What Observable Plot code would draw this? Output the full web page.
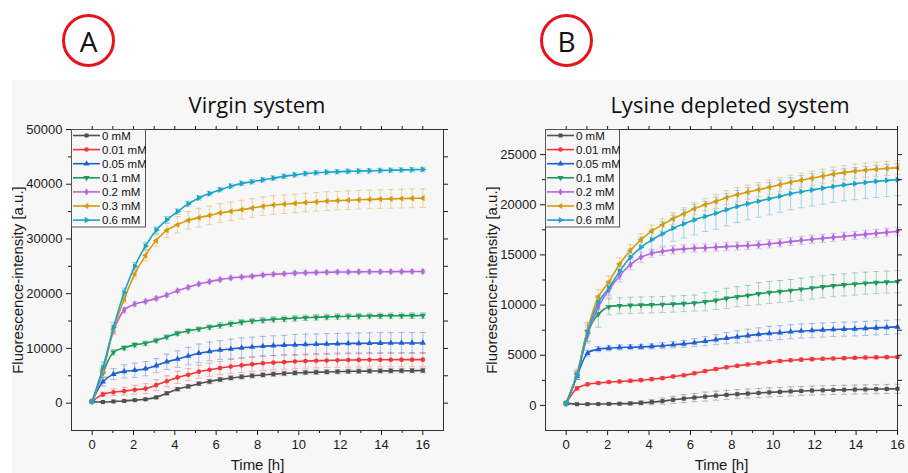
<!DOCTYPE html>
<html><head><meta charset="utf-8">
<script src="https://cdn.jsdelivr.net/npm/d3@7"></script>
<script src="https://cdn.jsdelivr.net/npm/@observablehq/plot@0.6"></script>
<style>
body{margin:0;width:908px;height:473px;position:relative;background:#fff;overflow:hidden;font-family:"Liberation Sans",Arial,sans-serif;}
.abs{position:absolute;}
.bg{left:12px;top:80px;width:896px;height:393px;background:#f7f7f7;}
.badge{width:53px;height:53px;box-sizing:border-box;border:3px solid #e8141c;border-radius:50%;display:flex;align-items:center;justify-content:center;font-family:"Open Sans",sans-serif;font-size:28px;color:#111;line-height:1;}
.title{font-family:"Open Sans",sans-serif;font-size:22px;color:#111;transform:translateX(-50%);white-space:nowrap;line-height:24px;}
</style></head><body>
<div class="abs bg"></div>
<div class="abs badge" style="left:62px;top:14px;">A</div>
<div class="abs badge" style="left:540px;top:14px;">B</div>
<div class="abs title" style="left:257px;top:92px;">Virgin system</div>
<div class="abs title" style="left:730px;top:92px;">Lysine depleted system</div>
<script>
// ---- data ----
const times = [0,0.52,1.03,1.55,2.06,2.58,3.1,3.61,4.13,4.65,5.16,5.68,6.19,6.71,7.23,7.74,8.26,8.77,9.29,9.81,10.32,10.84,11.35,11.87,12.39,12.9,13.42,13.94,14.45,14.97,15.48,16.0];
const concentrations = ["0 mM","0.01 mM","0.05 mM","0.1 mM","0.2 mM","0.3 mM","0.6 mM"];
const xLabel = "Time [h]";
const yLabel = "Fluorescence-intensity [a.u.]";

// Virgin system (A)
const virgin_0   = [300,200,300,400,550,700,1050,1800,2550,3050,3550,3950,4300,4600,4800,5000,5150,5300,5420,5520,5600,5650,5700,5750,5800,5830,5860,5880,5900,5920,5930,5950];
const virgin_001 = [300,1600,2000,2200,2450,2650,3300,4000,4700,5200,5750,6100,6400,6700,6900,7100,7300,7400,7500,7600,7680,7750,7800,7850,7880,7900,7920,7930,7940,7950,7950,7950];
const virgin_005 = [300,3900,5300,5800,6000,6300,6850,7550,8050,8600,9100,9450,9700,9900,10100,10250,10400,10500,10600,10650,10700,10750,10800,10850,10900,10920,10950,10970,10980,10990,11000,11000];
const virgin_01  = [300,5500,9300,10100,10650,10950,11450,12100,12750,13200,13550,13900,14200,14500,14800,15000,15150,15300,15400,15500,15600,15680,15750,15820,15870,15900,15930,15950,15970,15980,15990,16000];
const virgin_02  = [300,5800,13200,17000,18100,18590,19140,19760,20550,21160,21780,22200,22570,22880,23050,23200,23400,23550,23650,23750,23820,23880,23920,23950,23970,23990,24000,24010,24020,24030,24040,24040];
const virgin_03  = [300,6000,13500,19000,23600,27000,29700,31560,32600,33400,33890,34300,34740,35050,35360,35650,35970,36200,36350,36500,36650,36780,36900,37000,37080,37150,37220,37280,37330,37380,37420,37450];
const virgin_06  = [300,6500,13820,20200,25000,28700,31600,33500,35000,36400,37500,38300,39000,39650,40150,40450,40800,41100,41450,41700,41950,42100,42200,42280,42350,42400,42450,42500,42550,42600,42650,42700];

const virgin_0_err   = [100,100,100,150,150,200,250,300,300,350,350,400,400,400,400,400,400,400,400,400,400,400,400,400,400,400,400,400,400,400,400,400];
const virgin_001_err = [100,400,600,700,800,900,1000,1000,1100,1100,1200,1200,1200,1300,1300,1300,1300,1300,1300,1300,1300,1300,1300,1300,1300,1300,1300,1300,1300,1300,1300,1300];
const virgin_005_err = [100,800,1000,1200,1300,1300,1300,1400,1500,1600,1700,1700,1700,1800,1800,1800,1800,1800,1800,1900,1900,1900,1900,1900,1900,1900,1900,1900,1900,1900,1900,1900];
const virgin_01_err  = [100,700,500,400,400,400,400,400,400,400,400,400,500,500,500,500,500,500,500,500,500,500,500,500,500,500,500,500,500,500,500,500];
const virgin_02_err  = [100,500,700,500,400,300,300,300,300,300,300,300,300,300,300,300,300,300,300,300,300,300,300,300,300,300,300,300,300,300,300,300];
const virgin_03_err  = [100,500,800,700,900,1000,1100,1300,1500,1600,1700,1700,1700,1700,1700,1700,1700,1700,1700,1700,1700,1700,1700,1700,1700,1700,1700,1700,1700,1700,1700,1700];
const virgin_06_err  = [100,1000,900,800,700,700,600,600,500,500,400,400,400,400,400,400,400,400,400,400,400,400,400,400,400,400,400,400,400,400,400,400];

// Lysine depleted system (B)
const lysine_0   = [200,120,130,140,150,170,200,250,330,430,560,680,780,880,970,1050,1120,1180,1240,1300,1350,1400,1440,1480,1510,1540,1560,1580,1600,1620,1640,1660];
const lysine_001 = [200,1700,2100,2230,2330,2380,2450,2520,2620,2720,2880,3000,3200,3420,3620,3800,3950,4080,4200,4320,4420,4500,4560,4610,4650,4680,4710,4740,4770,4790,4810,4830];
const lysine_005 = [200,2900,5200,5600,5700,5770,5800,5830,5880,5950,6050,6130,6250,6400,6550,6700,6830,6950,7080,7180,7250,7340,7410,7460,7510,7560,7600,7630,7680,7730,7780,7830];
const lysine_01  = [200,3000,7300,9100,9830,9930,9970,10000,10030,10060,10100,10150,10200,10330,10470,10670,10830,10960,11130,11250,11350,11450,11580,11700,11820,11930,12020,12100,12180,12240,12290,12330];
const lysine_02  = [200,3000,7000,9800,11500,12930,14030,14760,15160,15360,15500,15600,15670,15700,15770,15830,15870,15930,16000,16100,16200,16330,16450,16550,16650,16750,16850,16950,17050,17150,17250,17350];
const lysine_03  = [200,3200,7500,10830,12300,14100,15430,16500,17370,18000,18600,19100,19600,20000,20330,20700,21000,21260,21500,21750,22000,22250,22450,22650,22850,23050,23200,23350,23450,23550,23620,23700];
const lysine_06  = [200,3000,7200,10260,11700,13360,14760,15760,16500,17100,17660,18100,18500,18830,19160,19500,19830,20100,20350,20600,20850,21100,21300,21480,21650,21820,21980,22100,22220,22330,22420,22500];

const lysine_0_err   = [50,50,50,50,100,100,150,200,250,300,350,400,400,450,450,450,450,450,450,450,450,450,450,450,450,450,450,450,450,450,450,450];
const lysine_001_err = [50,200,150,150,150,150,150,150,150,150,150,150,150,150,150,150,150,150,150,150,150,150,150,150,150,150,150,150,150,150,150,150];
const lysine_005_err = [50,300,300,250,250,250,250,250,250,300,300,350,400,450,500,550,600,650,650,700,700,700,700,700,700,700,700,700,700,700,700,700];
const lysine_01_err  = [50,400,900,1300,800,800,800,800,800,800,800,800,800,900,900,1000,1000,1000,1100,1100,1100,1100,1100,1100,1100,1100,1100,1100,1100,1100,1100,1100];
const lysine_02_err  = [50,400,800,900,700,600,500,500,400,400,400,400,400,400,400,400,400,400,400,400,400,400,400,400,400,400,400,400,400,400,400,400];
const lysine_03_err  = [50,400,800,700,600,600,600,600,600,600,600,600,600,600,700,700,700,700,700,700,700,700,700,700,700,700,700,700,700,700,700,700];
const lysine_06_err  = [50,400,800,700,700,800,900,1000,1100,1200,1300,1400,1500,1500,1600,1600,1600,1600,1600,1600,1600,1600,1600,1600,1600,1600,1600,1600,1600,1600,1600,1600];

// tick values
const xMajorTicks = [0,2,4,6,8,10,12,14,16];
const xMinorTicks = [1,3,5,7,9,11,13,15];
const xAllTicks = [0,1,2,3,4,5,6,7,8,9,10,11,12,13,14,15,16];
const yMajorA = [0,10000,20000,30000,40000,50000];
const yMinorA = [5000,15000,25000,35000,45000];
const yMajorB = [0,5000,10000,15000,20000,25000];
const yMinorB = [2500,7500,12500,17500,22500];

// ---- styles ----
const colors = ["#505050","#f3363a","#1e5fd6","#1d9a5e","#b466dc","#d49b0c","#19a4c9"];
const plotSymbols = ["square","circle","triangle","triangle","diamond","triangle","triangle"];
const d3Symbols = [d3.symbolSquare,d3.symbolCircle,d3.symbolTriangle,d3.symbolTriangle,d3.symbolDiamond,d3.symbolTriangle,d3.symbolTriangle];
const rotations = [0,0,0,180,0,-90,90];

const capSymbol = {draw(ctx, size){ const w = Math.sqrt(size); ctx.moveTo(-w,0); ctx.lineTo(w,0); }};

function panel(values, errs, o) {
  const marks = [];
  const per = values.map((arr, i) => arr.map((v, j) => ({t: times[j], v, e: errs[i][j]})));
  per.forEach((d, i) => {
    marks.push(Plot.ruleX(d, {x: "t", y1: r => r.v - r.e, y2: r => r.v + r.e, stroke: colors[i], strokeOpacity: 0.38, strokeWidth: 1}));
    marks.push(Plot.dot(d, {x: "t", y: r => r.v + r.e, symbol: capSymbol, r: 1.75, stroke: colors[i], strokeOpacity: 0.38, fill: "none", strokeWidth: 1}));
    marks.push(Plot.dot(d, {x: "t", y: r => r.v - r.e, symbol: capSymbol, r: 1.75, stroke: colors[i], strokeOpacity: 0.38, fill: "none", strokeWidth: 1}));
  });
  per.forEach((d, i) => {
    marks.push(Plot.line(d, {x: "t", y: "v", stroke: colors[i], strokeWidth: 1.6, curve: "catmull-rom"}));
    marks.push(Plot.dot(d, {x: "t", y: "v", symbol: plotSymbols[i], rotate: rotations[i], fill: colors[i], stroke: "none", r: 2.3}));
  });
  const none = () => "";
  marks.push(
    Plot.axisX({anchor: "bottom", ticks: xMajorTicks, tickSize: 5, tickPadding: 4, tickFormat: "d", label: null}),
    Plot.axisX({anchor: "bottom", ticks: xMinorTicks, tickSize: 3, tickFormat: none, label: null}),
    Plot.axisX({anchor: "top", ticks: xAllTicks, tickSize: 4, tickFormat: none, label: null}),
    Plot.axisY({anchor: "left", ticks: o.yMajor, tickSize: 5, tickPadding: 4, tickFormat: "d", label: null}),
    Plot.axisY({anchor: "left", ticks: o.yMinor, tickSize: 3, tickFormat: none, label: null}),
    Plot.axisY({anchor: "right", ticks: o.yMajor.concat(o.yMinor), tickSize: 4, tickFormat: none, label: null}),
    Plot.frame({stroke: "#333", strokeWidth: 1}),
    Plot.text([xLabel], {text: d => d, frameAnchor: "bottom", textAnchor: "middle", lineAnchor: "middle", dy: 35, fontSize: 15, fill: "#1a1a1a"}),
    Plot.text([yLabel], {text: d => d, frameAnchor: "left", textAnchor: "middle", lineAnchor: "middle", dx: -53, rotate: -90, fontSize: 15, fill: "#1a1a1a"})
  );
  const chart = Plot.plot({
    width: o.width, height: 393,
    marginLeft: o.ml, marginRight: o.mr, marginTop: 49, marginBottom: 43,
    x: {domain: o.xDomain, label: null},
    y: {domain: o.yDomain, label: null},
    style: {background: "transparent", fontFamily: '"Liberation Sans", Arial, sans-serif', fontSize: "13px", color: "#1a1a1a", overflow: "visible"},
    marks
  });
  chart.style.position = "absolute";
  chart.style.left = o.left + "px";
  chart.style.top = "80px";
  document.body.appendChild(chart);
}

function legend(left, top) {
  const svg = d3.create("svg").attr("width", 75).attr("height", 99)
    .style("position", "absolute").style("left", left + "px").style("top", top + "px");
  svg.append("rect").attr("x", 0.5).attr("y", 0.5).attr("width", 74).attr("height", 97.5)
    .attr("fill", "#f7f7f7").attr("stroke", "#555");
  concentrations.forEach((c, i) => {
    const g = svg.append("g").attr("transform", `translate(0,${6.5 + i * 14.1})`);
    g.append("line").attr("x1", 2).attr("x2", 29).attr("stroke", colors[i]).attr("stroke-width", 1.6);
    g.append("path").attr("d", d3.symbol(d3Symbols[i], 16)()).attr("transform", `translate(15.5,0) rotate(${rotations[i]})`).attr("fill", colors[i]);
    g.append("text").attr("x", 31).attr("dy", "0.35em").attr("fill", "#111")
      .style("font-family", '"Liberation Sans", Arial, sans-serif').style("font-size", "11.5px").text(c);
  });
  document.body.appendChild(svg.node());
}

panel([virgin_0, virgin_001, virgin_005, virgin_01, virgin_02, virgin_03, virgin_06],
      [virgin_0_err, virgin_001_err, virgin_005_err, virgin_01_err, virgin_02_err, virgin_03_err, virgin_06_err],
      {width: 450, left: 0, ml: 71, mr: 7, xDomain: [-1, 17], yDomain: [-5000, 50000], yMajor: yMajorA, yMinor: yMinorA});
panel([lysine_0, lysine_001, lysine_005, lysine_01, lysine_02, lysine_03, lysine_06],
      [lysine_0_err, lysine_001_err, lysine_005_err, lysine_01_err, lysine_02_err, lysine_03_err, lysine_06_err],
      {width: 454, left: 454, ml: 91, mr: 11, xDomain: [-1, 16], yDomain: [-2500, 27500], yMajor: yMajorB, yMinor: yMinorB});
legend(71, 129);
legend(545, 129);
</script>
</body></html>
